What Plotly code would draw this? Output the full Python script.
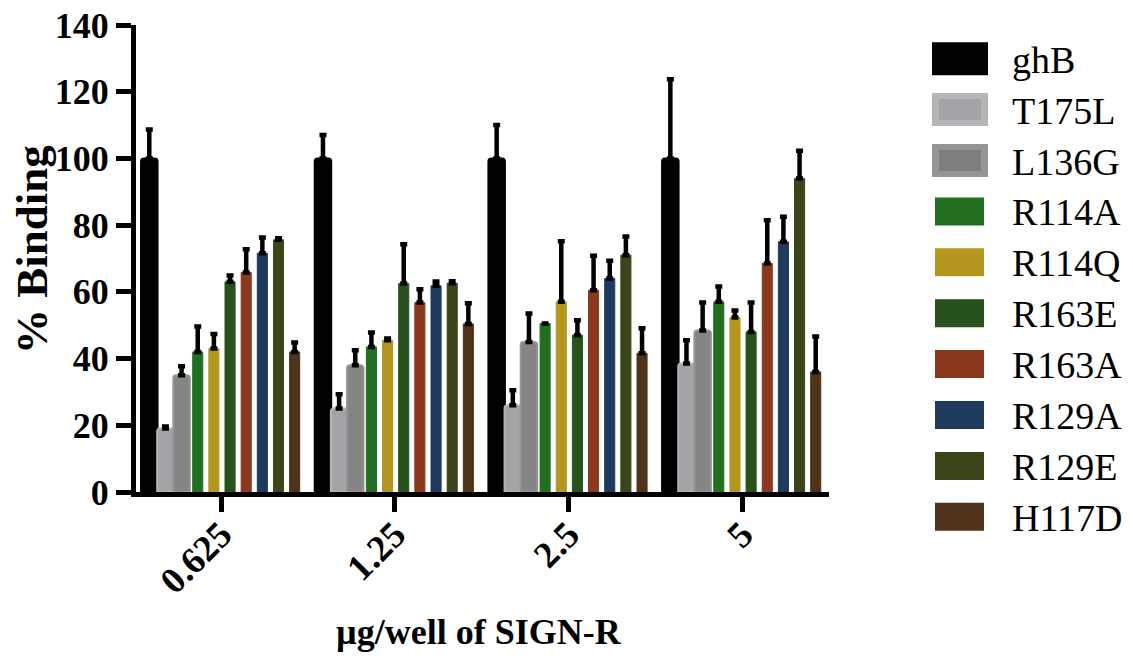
import plotly.graph_objects as go

categories = ["0.625", "1.25", "2.5", "5"]
series_names = ["ghB", "T175L", "L136G", "R114A", "R114Q", "R163E", "R163A", "R129A", "R129E", "H117D"]

ghB = [100, 100, 100, 100]
T175L = [19, 25, 26, 38.5]
L136G = [35, 38, 45, 48.4]
R114A = [42, 43.5, 50.5, 57]
R114Q = [43, 45.5, 57, 52.3]
R163E = [63, 62.5, 47, 48]
R163A = [65.8, 56.8, 60.5, 68.5]
R129A = [71.6, 61.8, 64, 75]
R129E = [75.6, 62.6, 71, 94]
H117D = [42, 50.4, 41.6, 36]

ghB_err = [8.7, 7, 10, 23.7]
T175L_err = [0.6, 4.3, 4.5, 7]
L136G_err = [2.7, 4.5, 8.5, 8.4]
R114A_err = [7.6, 4.3, 0, 4.6]
R114Q_err = [4.4, 0.5, 18.2, 2.1]
R163E_err = [1.9, 11.8, 4.5, 8.8]
R163A_err = [7, 4, 10.3, 13]
R129A_err = [4.7, 1.3, 5.3, 7.5]
R129E_err = [0.5, 0.6, 5.6, 8.3]
H117D_err = [2.8, 6.2, 7.5, 10.6]

values = [ghB, T175L, L136G, R114A, R114Q, R163E, R163A, R129A, R129E, H117D]
errors = [ghB_err, T175L_err, L136G_err, R114A_err, R114Q_err, R163E_err,
          R163A_err, R129A_err, R129E_err, H117D_err]

fills = ["#000000", "#a4a4a8", "#858585", "#236f22", "#b3961f", "#27521c",
         "#8a391e", "#1e3a5c", "#3a4619", "#4e331a"]
edges = ["#000000", "#b5b5b8", "#959595", "#236f22", "#b3961f", "#27521c",
         "#8a391e", "#1e3a5c", "#3a4619", "#4e331a"]

SERIF = "Liberation Serif"

fig = go.Figure()
slot = 0.093
for i, (name, v, e) in enumerate(zip(series_names, values, errors)):
    wide = i < 3
    w = 0.095 if wide else 0.058
    center = (i - 4.5) * slot + 0.005
    fig.add_trace(go.Bar(
        name=name, x=categories, y=v,
        offset=center - w / 2, width=w,
        marker=dict(color=fills[i], line=dict(color=edges[i], width=2 if wide else 1),
                    cornerradius=3 if wide else 0),
        error_y=dict(type="data", array=e, arrayminus=[0] * len(e), symmetric=False,
                     color="black", thickness=4.5, width=3.5),
        showlegend=False,
    ))

W, H = 1133, 660
# plot-area edges in window pixels
L, R, T, B = 136, 829, 25, 492


def px_x(p):
    return (p - L) / (R - L)


def px_y(p):
    return (B - p) / (B - T)


shapes = []
annotations = []
row0 = 58.7
step = 50.9
for i, name in enumerate(series_names):
    cy = row0 + i * step
    if i < 3:
        x0, x1, hh = 932, 988, 16.5
        shapes.append(dict(type="rect", xref="paper", yref="paper",
                           x0=px_x(x0), x1=px_x(x1), y0=px_y(cy + hh), y1=px_y(cy - hh),
                           fillcolor=edges[i], line=dict(width=0)))
        if i > 0:
            shapes.append(dict(type="rect", xref="paper", yref="paper",
                               x0=px_x(x0 + 7), x1=px_x(x1 - 7), y0=px_y(cy + hh - 6),
                               y1=px_y(cy - hh + 6),
                               fillcolor=fills[i] if i == 1 else "#7e7e7e", line=dict(width=0)))
    else:
        x0, x1, hh = 935, 984, 14
        shapes.append(dict(type="rect", xref="paper", yref="paper",
                           x0=px_x(x0), x1=px_x(x1), y0=px_y(cy + hh), y1=px_y(cy - hh),
                           fillcolor=fills[i], line=dict(width=0)))
    annotations.append(dict(xref="paper", yref="paper", x=px_x(1010), y=px_y(cy + 1),
                            xanchor="left", yanchor="middle", showarrow=False,
                            text=name, font=dict(family=SERIF, size=38, color="black")))

# axis titles
annotations.append(dict(xref="paper", yref="paper", x=px_x(479), y=px_y(632),
                        xanchor="center", yanchor="middle", showarrow=False,
                        text="µg/well of SIGN-R",
                        font=dict(family=SERIF, size=36, color="black", weight="bold")))
annotations.append(dict(xref="paper", yref="paper", x=px_x(32), y=px_y(250),
                        xanchor="center", yanchor="middle", showarrow=False, textangle=-90,
                        text="% Binding",
                        font=dict(family=SERIF, size=45, color="black", weight="bold")))

fig.update_layout(
    width=W, height=H,
    margin=dict(l=L, r=W - R, t=T, b=H - B, pad=0, autoexpand=False),
    paper_bgcolor="white", plot_bgcolor="white",
    barmode="overlay",
    shapes=shapes, annotations=annotations,
    font=dict(family=SERIF, color="black"),
    xaxis=dict(
        type="category", range=[-0.49, 3.5], automargin=False,
        showline=True, linecolor="black", linewidth=5,
        ticks="outside", ticklen=15, tickwidth=5, tickcolor="black",
        tickangle=-45, ticklabelstandoff=-14, ticklabeloverflow="allow",
        tickfont=dict(family=SERIF, size=37, color="black", weight="bold"),
        showgrid=False, zeroline=False,
    ),
    yaxis=dict(
        range=[0, 140], tickvals=[0, 20, 40, 60, 80, 100, 120, 140], automargin=False,
        showline=True, linecolor="black", linewidth=5,
        ticks="outside", ticklen=15, tickwidth=5, tickcolor="black",
        ticklabeloverflow="allow",
        tickfont=dict(family=SERIF, size=36, color="black", weight="bold"),
        showgrid=False, zeroline=False,
    ),
)

fig.write_html("out.html", config={"displayModeBar": False},
               post_script="document.body.style.margin='0';document.body.style.overflow='hidden';")
